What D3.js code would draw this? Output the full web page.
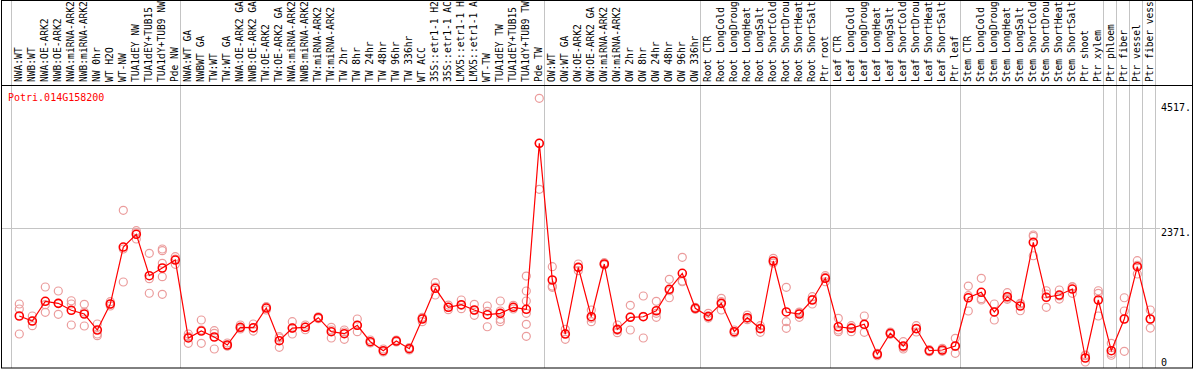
<!DOCTYPE html>
<html>
<head>
<meta charset="utf-8">
<script src="https://cdn.jsdelivr.net/npm/d3@7.9.0/dist/d3.min.js"></script>
<style>
  html, body { margin: 0; padding: 0; background: #fff; }
  svg { display: block; }
  text { font-family: "DejaVu Sans Mono", monospace; font-size: 10px; }
</style>
</head>
<body>
<svg id="chart" width="1194" height="370"></svg>
<script>
// ---- Data ----
const geneId = 'Potri.014G158200';

const labels = [
  'NWA:WT', 'NWB:WT', 'NWA:OE-ARK2', 'NWB:OE-ARK2', 'NWA:miRNA-ARK2', 'NWB:miRNA-ARK2',
  'NW 0hr', 'WT H2O', 'WT-NW', 'TUA1dEY NW', 'TUA1dEY+TUB15', 'TUA1dY+TUB9 NW', 'Pde NW',
  'NWA:WT GA', 'NWBWT GA', 'TW:WT', 'TW:WT GA', 'NWA:OE-ARK2 GA', 'NWB:OE-ARK2 GA',
  'TW:OE-ARK2', 'TW:OE-ARK2 GA', 'NWA:miRNA-ARK2', 'NWB:miRNA-ARK2', 'TW:miRNA-ARK2',
  'TW:miRNA-ARK2', 'TW 2hr', 'TW 8hr', 'TW 24hr', 'TW 48hr', 'TW 96hr', 'TW 336hr',
  'WT ACC', '35S::etr1-1 H2', '35S::etr1-1 AC', 'LMX5::etr1-1 H', 'LMX5::etr1-1 A',
  'WT-TW', 'TUA1dEY TW', 'TUA1dEY+TUB15', 'TUA1dY+TUB9 TW', 'Pde TW',
  'OW:WT', 'OW:WT GA', 'OW:OE-ARK2', 'OW:OE-ARK2 GA', 'OW:miRNA-ARK2', 'OW:miRNA-ARK2',
  'OW 2hr', 'OW 8hr', 'OW 24hr', 'OW 48hr', 'OW 96hr', 'OW 336hr',
  'Root CTR', 'Root LongCold', 'Root LongDroug', 'Root LongHeat', 'Root LongSalt',
  'Root ShortCold', 'Root ShortDrou', 'Root ShortHeat', 'Root ShortSalt', 'Ptr root',
  'Leaf CTR', 'Leaf LongCold', 'Leaf LongDroug', 'Leaf LongHeat', 'Leaf LongSalt',
  'Leaf ShortCold', 'Leaf ShortDrou', 'Leaf ShortHeat', 'Leaf ShortSalt', 'Ptr leaf',
  'Stem CTR', 'Stem LongCold', 'Stem LongDroug', 'Stem LongHeat', 'Stem LongSalt',
  'Stem ShortCold', 'Stem ShortDrou', 'Stem ShortHeat', 'Stem ShortSalt', 'Ptr shoot',
  'Ptr xylem', 'Ptr phloem', 'Ptr fiber', 'Ptr vessel', 'Ptr fiber vess'
];

// mean expression per sample
const means = [
  814, 725, 1074, 1038, 915, 849, 566, 1026, 2034, 2259, 1527, 1663, 1804,
  425, 548, 442, 301, 614, 607, 955, 377, 601, 614, 784, 536, 501, 649, 359, 200,
  371, 235, 761, 1304, 968, 1014, 920, 837, 861, 968, 932, 3869,
  1451, 495, 1675, 801, 1734, 578, 791, 801, 907, 1286, 1569, 950,
  808, 1038, 536, 784, 589, 1787, 885, 849, 1097, 1481,
  624, 596, 667, 136, 508, 283, 589, 200, 212, 283,
  1137, 1233, 885, 1155, 991, 2117, 1145, 1185, 1291, 71,
  1097, 200, 761, 1686, 761
];

// individual replicates per sample
const reps = [
  [1026, 938, 495], [814, 642, 725], [1327, 1014, 879], [1256, 844, 1038],
  [1084, 1026, 655], [1021, 637, 885], [672, 495, 465], [1067, 1026, 991],
  [2684, 1415, 1999], [2323, 2287, 2176], [1923, 1474, 1216],
  [1999, 1969, 1746, 1509, 1198], [1863, 1728, 1822],
  [495, 331, 448], [743, 331, 566], [554, 508, 230], [336, 283, 283],
  [655, 601, 584], [672, 548, 601], [978, 973, 920], [448, 260, 425],
  [713, 495, 601], [655, 571, 619], [801, 766, 784], [614, 425, 566],
  [566, 402, 531], [761, 536, 649], [389, 336, 354], [230, 177, 195],
  [389, 354, 371], [256, 212, 235], [713, 778, 791], [1403, 1185, 1327],
  [1008, 925, 968], [1097, 943, 1003], [1021, 826, 915], [991, 624, 897],
  [1079, 755, 713, 902], [1003, 968, 938], [1521, 1256, 1079, 862, 667, 455],
  [4665, 3055, 3869],
  [1686, 1344, 1321], [578, 402, 504], [1734, 1615, 1675], [920, 713, 773],
  [1757, 1716, 1728], [655, 518, 561], [1003, 566, 801], [1168, 425, 808],
  [1074, 791, 861], [1463, 1137, 1261], [1852, 1420, 1433], [968, 950, 932],
  [861, 796, 778], [1127, 920, 1067], [566, 513, 531], [831, 748, 773],
  [642, 525, 601], [1834, 1751, 1774], [1321, 713, 596], [791, 885, 872],
  [1026, 1155, 1109], [1527, 1498, 1420],
  [773, 566, 536], [536, 642, 607], [814, 525, 660], [154, 111, 142],
  [531, 490, 501], [359, 230, 260], [642, 596, 531], [218, 182, 200],
  [242, 189, 207], [419, 154, 278],
  [1344, 1173, 902], [1481, 1097, 1120], [1026, 743, 885], [1226, 1109, 1132],
  [1026, 907, 1038], [2247, 1880, 2224], [1261, 968, 1203], [1274, 1114, 1168],
  [1332, 1215, 1327], [111, 0, 124], [1261, 1215, 814], [331, 119, 154],
  [1137, 902, 189], [1792, 1557, 1711], [920, 601, 761]
];

// first sample index of each group (last entry closes the final group)
const groupStarts = [0, 13, 41, 53, 63, 73, 84, 85, 86, 87, 88];
const yTicks = [0, 2371, 4517];
const gridTicks = [2371];

// ---- Layout ----
const W = 1194, H = 370;
const headerBottom = 85, plotBottom = 368;
const svg = d3.select('#chart');

const x = d3.scaleLinear().domain([0, labels.length - 1]).range([19.3, 1150.3]);
const y = d3.scaleLinear().domain([0, 4517]).range([362, 106.7]);

// vertical separators
svg.append('g')
  .selectAll('line')
  .data(groupStarts)
  .join('line')
  .attr('x1', (d) => Math.round(x(d) - 8.5) + 0.5)
  .attr('x2', (d) => Math.round(x(d) - 8.5) + 0.5)
  .attr('y1', 0)
  .attr('y2', plotBottom)
  .attr('stroke', '#c4c4c4')
  .attr('stroke-width', 1);

// horizontal grid
svg.append('g')
  .selectAll('line')
  .data(gridTicks)
  .join('line')
  .attr('x1', 2)
  .attr('x2', 1160)
  .attr('y1', (d) => Math.round(y(d)) + 0.5)
  .attr('y2', (d) => Math.round(y(d)) + 0.5)
  .attr('stroke', '#c4c4c4');

// frame + header divider
svg.append('rect')
  .attr('x', 1.5).attr('y', 0.5)
  .attr('width', W - 3).attr('height', plotBottom - 0.5)
  .attr('fill', 'none').attr('stroke', '#000');
svg.append('line')
  .attr('x1', 1).attr('x2', W - 1)
  .attr('y1', headerBottom + 0.5).attr('y2', headerBottom + 0.5)
  .attr('stroke', '#000');

// column labels (14 chars fit just under the top edge)
svg.append('g')
  .selectAll('text')
  .data(labels)
  .join('text')
  .attr('transform', (d, i) => `translate(${x(i) - 1},82) rotate(-90)`)
  .attr('dy', '0.35em')
  .attr('fill', '#000')
  .style('font-size', '9.6px')
  .text((d) => d);

// right axis
const axis = d3.axisRight(y)
  .tickValues(yTicks)
  .tickSize(0)
  .tickPadding(0)
  .tickFormat((d) => (d === 0 ? '0' : d + '.'));
const axisG = svg.append('g')
  .attr('transform', 'translate(1161,0)')
  .call(axis);
axisG.select('.domain').remove();
axisG.selectAll('text')
  .attr('fill', '#000')
  .style('font-family', '"DejaVu Sans Mono", monospace')
  .style('font-size', '10px')
  .attr('dy', (d) => (d === 2371 ? '0.75em' : '0.35em'));

// gene title
svg.append('text')
  .attr('x', 8).attr('y', 101)
  .attr('fill', '#ff0000')
  .text(geneId);

// replicates
const repPoints = reps.flatMap((arr, i) => arr.map((v) => ({ i, v })));
svg.append('g')
  .selectAll('circle')
  .data(repPoints)
  .join('circle')
  .attr('cx', (d) => x(d.i))
  .attr('cy', (d) => y(d.v))
  .attr('r', 4)
  .attr('fill', 'none')
  .attr('stroke', '#eb9c9c')
  .attr('stroke-width', 1.2);

// mean line
const line = d3.line()
  .x((d, i) => x(i))
  .y((d) => y(d));
svg.append('path')
  .datum(means)
  .attr('d', line)
  .attr('fill', 'none')
  .attr('stroke', '#ff0000')
  .attr('stroke-width', 1.2);

// mean markers
svg.append('g')
  .selectAll('circle')
  .data(means)
  .join('circle')
  .attr('cx', (d, i) => x(i))
  .attr('cy', (d) => y(d))
  .attr('r', 4)
  .attr('fill', 'none')
  .attr('stroke', '#ff0000')
  .attr('stroke-width', 1.6);
</script>
</body>
</html>
